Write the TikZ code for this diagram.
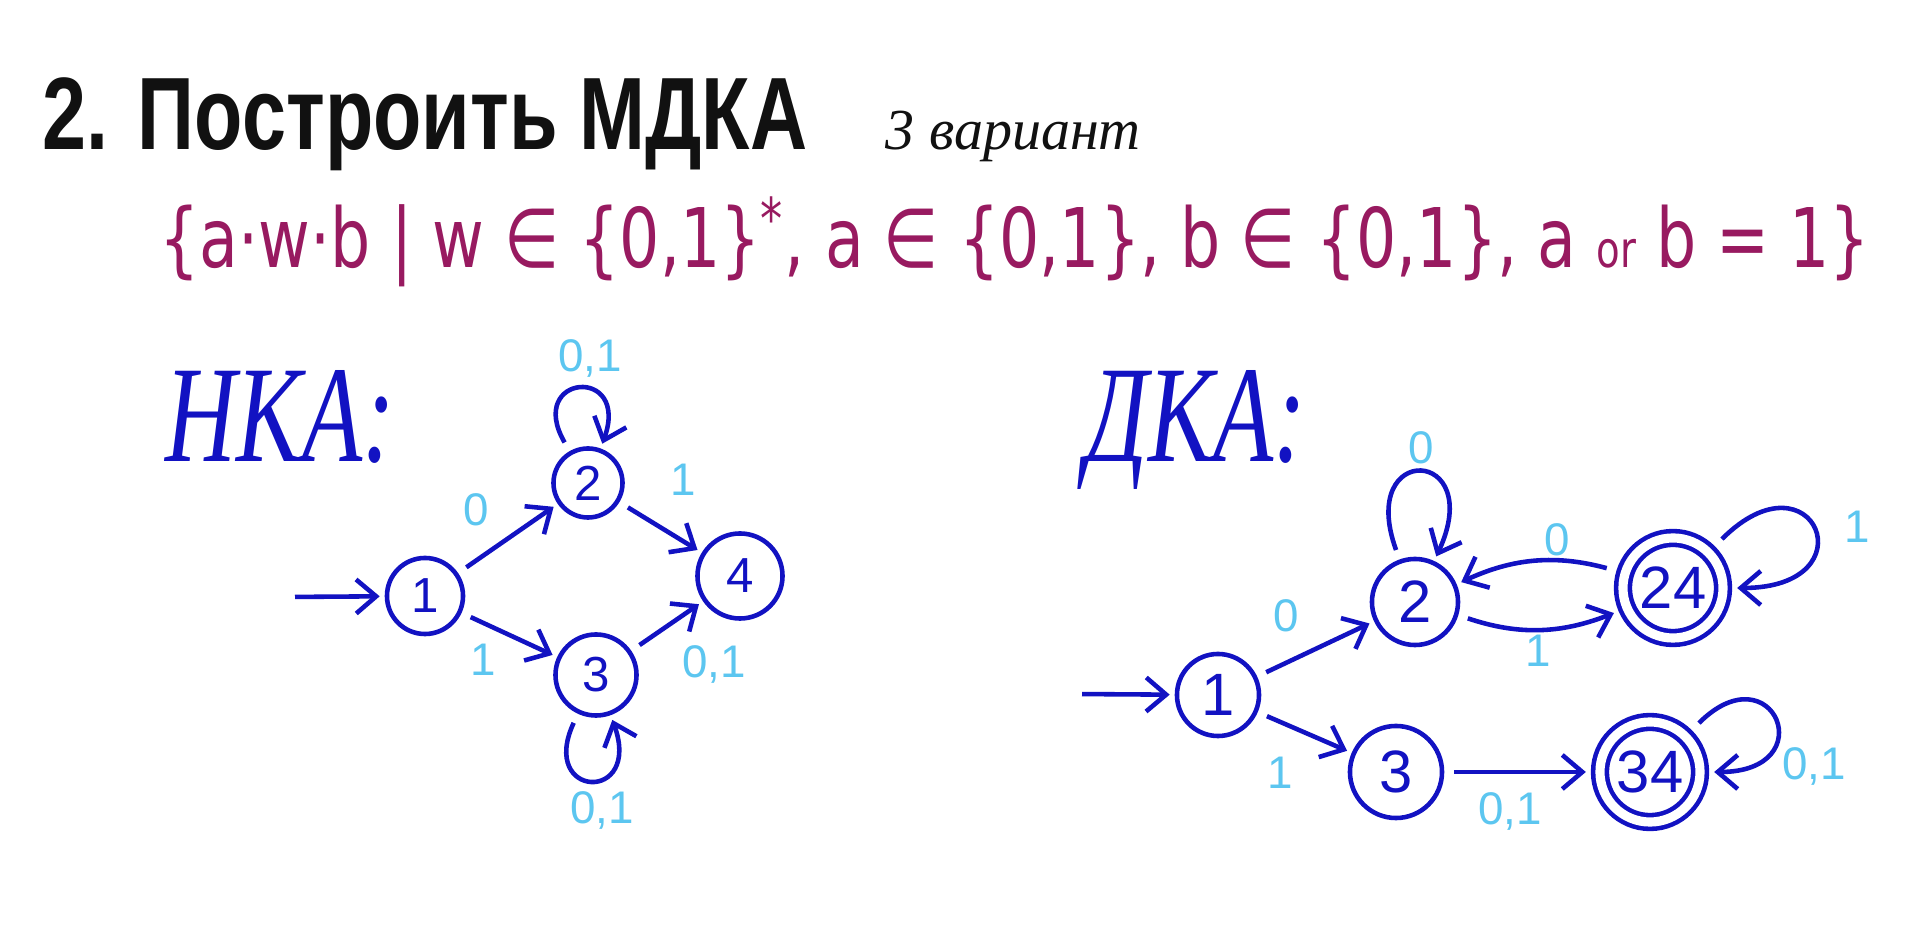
\documentclass[tikz,border=0pt]{standalone}
\usepackage{fontspec}
\setmainfont{Liberation Sans}
\newfontfamily\handfont{Liberation Serif}
\newfontfamily\formulafont{DejaVu Sans}
\usepackage{xcolor}
\usepackage{graphicx}
\usepackage{tikz}
\usetikzlibrary{arrows.meta,positioning}
\definecolor{InkBlack}{HTML}{111111}
\definecolor{Plum}{HTML}{981A60}
\definecolor{StateBlue}{HTML}{1212C2}
\definecolor{LabelBlue}{HTML}{5CC6F0}
\newcommand{\tallbox}[2][1.3]{\scalebox{1}[#1]{#2}}

\begin{document}
\begin{tikzpicture}[
  x=0.01cm,y=-0.01cm,
  state/.style={circle,draw=StateBlue,line width=1.3pt,minimum size=8mm,inner sep=0pt,text=StateBlue,font=\fontsize{14}{14}\selectfont},
  bigstate/.style={state,font=\fontsize{17}{17}\selectfont},
  accept/.style={bigstate,double=white,double distance=2.6pt,outer sep=2.6pt,minimum size=10mm},
  lbl/.style={text=LabelBlue,inner sep=0pt,font=\fontsize{13}{13}\selectfont},
  arr/.style={-{Straight Barb[length=2mm,width=3.4mm]},line width=1.3pt,draw=StateBlue,shorten >=0.5mm,shorten <=1mm},
  head/.style={anchor=base west,inner sep=0pt}
]
\path[use as bounding box,fill=white] (0,0) rectangle (1923,925);

\node[head,text=InkBlack,font=\bfseries\fontsize{22.5}{22.5}\selectfont] (title) at (42,150) {\tallbox{2. Построить МДКА}};
\node[head,text=InkBlack,font=\handfont\itshape\fontsize{16.5}{16.5}\selectfont] (variant) at (885,150) {3 вариант};
\node[head,text=Plum,font=\formulafont\fontsize{18}{18}\selectfont] (lang) at (159,268)
  {\tallbox{\{a·w·b | w ∈ \{0,1\}\textsuperscript{*}, a ∈ \{0,1\}, b ∈ \{0,1\}, a {\fontsize{11}{11}\selectfont or} b = 1\}}};

\node[head,text=StateBlue,font=\handfont\itshape\fontsize{28}{28}\selectfont] (nfa) at (165,462) {\tallbox[1.4]{НКА:}};
\node[head,text=StateBlue,font=\handfont\itshape\fontsize{28}{28}\selectfont] (dfa) at (1085,462) {\tallbox[1.4]{ДКА:}};

\node[state,minimum size=7.6mm] (n1) at (425,596) {1};
\node[state,minimum size=6.9mm] (n2) at (588,483) {2};
\node[state,minimum size=8.1mm] (n3) at (596,675) {3};
\node[state,minimum size=8.5mm] (n4) at (740,576) {4};
\coordinate (nin) at (285,597);

\node[bigstate,minimum size=8.2mm] (d1) at (1218,695) {1};
\node[bigstate,minimum size=8.6mm] (d2) at (1415,602) {2};
\node[bigstate,minimum size=9.2mm] (d3) at (1396,772) {3};
\node[accept] (d24) at (1673,588) {24};
\node[accept] (d34) at (1650,772) {34};
\coordinate (din) at (1072,694);

\draw[arr] (nin) -- (n1);
\draw[arr] (n1) -- (n2);
\draw[arr] (n1) -- (n3);
\draw[arr] (n2) -- (n4);
\draw[arr] (n3) -- (n4);
\draw[arr] (n2) to[loop,out=120,in=70,looseness=1,min distance=8.9mm] (n2);
\draw[arr] (n3) to[loop,out=245,in=290,looseness=1,min distance=9.4mm] (n3);

\draw[arr] (din) -- (d1);
\draw[arr] (d1) -- (d2);
\draw[arr] (d1) -- (d3);
\draw[arr] (d3) -- (d34);
\draw[arr] (d2) to[bend right=20] (d24);
\draw[arr] (d24) to[bend right=20] (d2);
\draw[arr] (d2) to[loop,out=110,in=65,looseness=1,min distance=12.6mm] (d2);
\draw[arr] (d24) to[loop,out=45,in=0,looseness=1,min distance=14mm] (d24);
\draw[arr] (d34) to[loop,out=45,in=0,looseness=1,min distance=11.5mm] (d34);

\node[lbl] (ln22) at (590,358) {0,1};
\node[lbl] (ln12) at (476,510) {0};
\node[lbl] (ln13) at (483,660) {1};
\node[lbl] (ln24) at (683,480) {1};
\node[lbl] (ln34) at (714,664) {0,1};
\node[lbl] (ln33) at (602,810) {0,1};

\node[lbl] (ld22) at (1421,448) {0};
\node[lbl] (ld12) at (1286,616) {0};
\node[lbl] (ld13) at (1280,773) {1};
\node[lbl] (ld242) at (1557,540) {0};
\node[lbl] (ld224) at (1538,651) {1};
\node[lbl] (ld2424) at (1857,527) {1};
\node[lbl] (ld334) at (1510,811) {0,1};
\node[lbl] (ld3434) at (1814,766) {0,1};
\end{tikzpicture}
\end{document}
